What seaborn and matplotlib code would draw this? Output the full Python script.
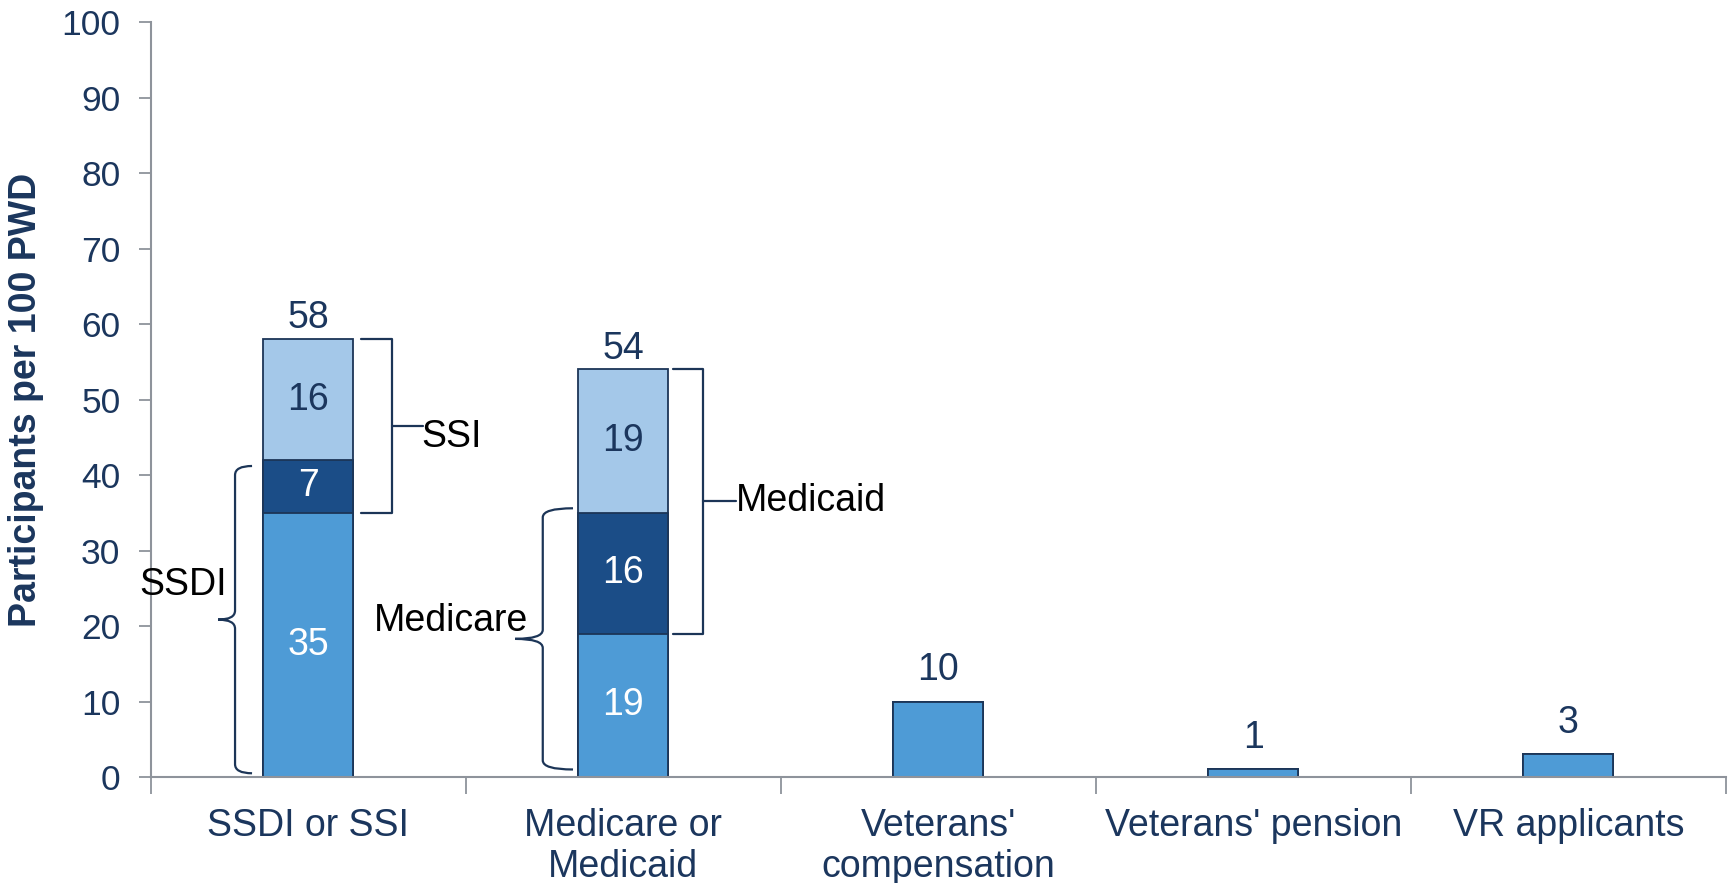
import numpy as np
import pandas as pd
import matplotlib
matplotlib.use("Agg")
import matplotlib.pyplot as plt
from matplotlib.path import Path
from matplotlib.patches import PathPatch
import seaborn as sns

# ---- data -------------------------------------------------------------
categories = ["SSDI or SSI", "Medicare or\nMedicaid", "Veterans'\ncompensation",
              "Veterans' pension", "VR applicants"]
base_values = [35, 19, 10, 1, 3]      # SSDI only / Medicare only / single programs
overlap_values = [7, 16, 0, 0, 0]     # enrolled in both programs
upper_values = [16, 19, 0, 0, 0]      # SSI only / Medicaid only
y_ticks = list(range(0, 101, 10))
y_label = "Participants per 100 PWD"

# ---- styling ------------------------------------------------------------
MID_BLUE = "#4E9BD6"
DARK_BLUE = "#1B4D87"
LIGHT_BLUE = "#A4C8E9"
EDGE = "#1C3557"
NAVY = "#1B365D"
AXIS_GRAY = "#8E939B"
BAR_W = 0.286
FS = 27
TICK_FS = 25.5

sns.set_style("white")
plt.rcParams["font.family"] = ["Liberation Sans", "DejaVu Sans"]

df = pd.DataFrame({
    "category": categories,
    "base": base_values,
    "overlap": overlap_values,
    "upper": upper_values,
})
df["mid_cum"] = df["base"] + df["overlap"]
df["top_cum"] = df["mid_cum"] + df["upper"]

fig = plt.figure(figsize=(17.31, 8.83), dpi=100)
ax = fig.add_axes([0.0872, 0.12, 0.9098, 0.855])

# stacked bars drawn as overlapping cumulative layers, tallest first
for col, colr in [("top_cum", LIGHT_BLUE), ("mid_cum", DARK_BLUE), ("base", MID_BLUE)]:
    sns.barplot(data=df, x="category", y=col, order=categories, color=colr,
                saturation=1, width=BAR_W, edgecolor=EDGE, linewidth=1.3, ax=ax,
                errorbar=None)

ax.set_ylim(0, 100)
ax.set_xlim(-0.5, len(categories) - 0.5)
ax.set_yticks(y_ticks)
ax.set_yticklabels([str(t) for t in y_ticks])

# category boundaries carry the tick marks, labels sit between them
ax.set_xticks(np.arange(-0.5, len(categories), 1.0))
ax.set_xticklabels([])
ax.set_xticks(np.arange(len(categories)), minor=True)
ax.set_xticklabels(categories, minor=True)
ax.tick_params(axis="x", which="minor", bottom=True, length=0, pad=22,
               labelsize=FS, labelcolor=NAVY)
ax.tick_params(axis="x", which="major", bottom=True, length=12, width=1.3,
               color=AXIS_GRAY, direction="out")
ax.tick_params(axis="y", left=True, length=9, width=1.3, color=AXIS_GRAY,
               direction="out", pad=13, labelsize=TICK_FS, labelcolor=NAVY)
ax.set_xlabel("")
ax.set_ylabel(y_label, fontsize=FS, fontweight="bold", color=NAVY)
ax.yaxis.set_label_coords(-0.068, 0.5)

for side in ["top", "right"]:
    ax.spines[side].set_visible(False)
for side in ["left", "bottom"]:
    ax.spines[side].set_color(AXIS_GRAY)
    ax.spines[side].set_linewidth(1.5)

# ---- value labels -------------------------------------------------------
for i, row in df.iterrows():
    stacked = row["overlap"] > 0 or row["upper"] > 0
    if stacked:
        ax.text(i, row["base"] / 2, f"{row['base']}", ha="center", va="center",
                fontsize=FS, color="white")
        ax.text(i, row["base"] + row["overlap"] / 2, f"{row['overlap']}",
                ha="center", va="center", fontsize=FS, color="white")
        ax.text(i, row["mid_cum"] + row["upper"] / 2, f"{row['upper']}",
                ha="center", va="center", fontsize=FS, color=NAVY)
        ax.annotate(f"{row['top_cum']}", (i, row["top_cum"]), xytext=(0, 2),
                    textcoords="offset points", ha="center", va="bottom",
                    fontsize=FS, color=NAVY)
    else:
        ax.annotate(f"{row['base']}", (i, row["base"]), xytext=(0, 10),
                    textcoords="offset points", ha="center", va="bottom",
                    fontsize=FS, color=NAVY)


# ---- brackets -------------------------------------------------------------
def curly_brace(ax, x_end, x_spine, x_tip, y0, y1, r=1.2):
    ym = (y0 + y1) / 2
    verts = [
        (x_end, y1), (x_spine, y1), (x_spine, y1 - r),
        (x_spine, ym + r),
        (x_spine, ym), (x_tip, ym),
        (x_spine, ym), (x_spine, ym - r),
        (x_spine, y0 + r),
        (x_spine, y0), (x_end, y0),
    ]
    codes = [Path.MOVETO, Path.CURVE3, Path.CURVE3, Path.LINETO,
             Path.CURVE3, Path.CURVE3, Path.CURVE3, Path.CURVE3,
             Path.LINETO, Path.CURVE3, Path.CURVE3]
    ax.add_patch(PathPatch(Path(verts, codes), fill=False, edgecolor=EDGE,
                           linewidth=1.6, clip_on=False))
    return ym


def square_bracket(ax, x_end, x_spine, x_tick, y0, y1):
    ym = (y0 + y1) / 2
    ax.plot([x_end, x_spine, x_spine, x_end], [y1, y1, y0, y0], color=EDGE,
            linewidth=1.6, clip_on=False)
    ax.plot([x_spine, x_tick], [ym, ym], color=EDGE, linewidth=1.6, clip_on=False)
    return ym


# SSDI: base + overlap of the first bar
ssdi_mid = curly_brace(ax, -0.179, -0.233, -0.287, 0.5, df.loc[0, "mid_cum"] - 0.8)
ax.text(-0.26, ssdi_mid + 4.6, "SSDI", ha="right", va="center", fontsize=FS,
        color="black")
# SSI: overlap + upper of the first bar
ssi_mid = square_bracket(ax, 0.167, 0.264, 0.363, df.loc[0, "base"],
                         df.loc[0, "top_cum"])
ax.text(0.357, ssi_mid - 1.4, "SSI", ha="left", va="center", fontsize=FS,
        color="black")
# Medicare: base + overlap of the second bar
mcare_mid = curly_brace(ax, 1 - 0.160, 1 - 0.256, 1 - 0.344, 1.0,
                        df.loc[1, "mid_cum"] + 0.6)
ax.text(1 - 0.303, mcare_mid + 2.4, "Medicare", ha="right", va="center",
        fontsize=FS, color="black")
# Medicaid: overlap + upper of the second bar
mcaid_mid = square_bracket(ax, 1 + 0.156, 1 + 0.253, 1 + 0.359,
                           df.loc[1, "base"], df.loc[1, "top_cum"])
ax.text(1 + 0.357, mcaid_mid, "Medicaid", ha="left", va="center", fontsize=FS,
        color="black")

fig.savefig("out.png", dpi=100)
